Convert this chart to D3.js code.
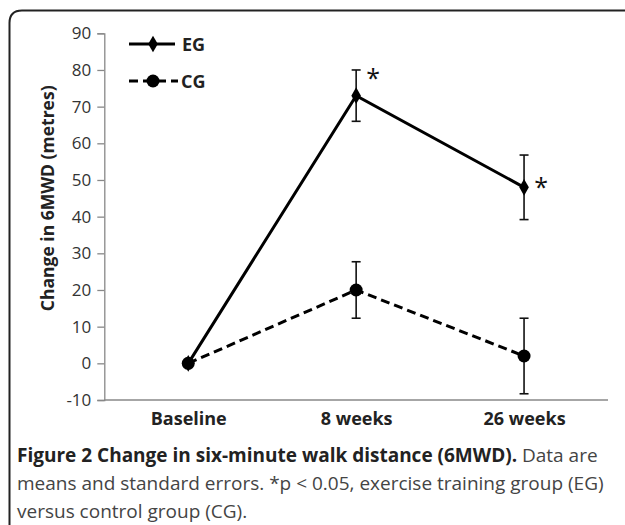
<!DOCTYPE html>
<html>
<head>
<meta charset="utf-8">
<script src="https://cdn.jsdelivr.net/npm/d3@7"></script>
<style>
  body { margin: 0; background: #fff; }
  text { font-family: "Open Sans", "Noto Sans", sans-serif; }
</style>
</head>
<body>
<script>
// data
var timepoints = ["Baseline", "8 weeks", "26 weeks"];
var egMeans = [0, 73, 48];
var egErrors = [0, 7, 8.8];
var cgMeans = [0, 20, 2];
var cgErrors = [0, 7.7, 10.3];
var yTicks = [-10, 0, 10, 20, 30, 40, 50, 60, 70, 80, 90];
// where the "*" marks sit, in metres, beside the EG points (null = none)
var starLevels = [null, 78.5, 49];

var width = 625, height = 525;
var margin = {top: 33.3, right: 17, bottom: 125, left: 104.3};

var svg = d3.select("body").append("svg")
    .attr("width", width)
    .attr("height", height);

// frame with the rounded corner at top left
svg.append("path")
    .attr("d", "M9.5,525 L9.5,23 Q9.5,10.5 22,10.5 L625,10.5")
    .attr("fill", "none")
    .attr("stroke", "#222")
    .attr("stroke-width", 2);

var x = d3.scalePoint()
    .domain(timepoints)
    .range([margin.left, width - margin.right])
    .padding(0.5);

var y = d3.scaleLinear()
    .domain([-10, 90])
    .range([height - margin.bottom, margin.top]);

// y axis
var yAxis = svg.append("g")
    .attr("transform", "translate(" + margin.left + ",0)")
    .call(d3.axisLeft(y).tickValues(yTicks).tickSize(7).tickPadding(6)
        .tickFormat(function (d) { return String(d); }));
yAxis.select(".domain").attr("stroke", "#888").attr("stroke-width", 1.3);
yAxis.selectAll(".tick line").attr("stroke", "#888").attr("stroke-width", 1.3);
yAxis.selectAll(".tick text")
    .attr("font-size", 17)
    .attr("fill", "#333")
    .attr("font-family", "'Open Sans', sans-serif");

// x axis (line at the bottom of the y range, no ticks)
var xAxis = svg.append("g")
    .attr("transform", "translate(0," + y(-10) + ")")
    .call(d3.axisBottom(x).tickSize(0).tickPadding(12));
xAxis.select(".domain")
    .attr("d", "M" + margin.left + ",0H" + (width - margin.right))
    .attr("stroke", "#888").attr("stroke-width", 1.3);
xAxis.selectAll(".tick text")
    .attr("font-size", 18)
    .attr("font-weight", "bold")
    .attr("fill", "#222")
    .attr("font-family", "'Open Sans', sans-serif");

// y axis title
svg.append("text")
    .attr("transform", "translate(54," + y(45) + ") rotate(-90)")
    .attr("text-anchor", "middle")
    .attr("font-size", 17.5)
    .attr("font-weight", "bold")
    .attr("fill", "#222")
    .text("Change in 6MWD (metres)");

var line = d3.line()
    .x(function (d, i) { return x(timepoints[i]); })
    .y(function (d) { return y(d); });

// error bars
function drawErrors(means, errors) {
    var g = svg.append("g");
    means.forEach(function (m, i) {
        if (errors[i] === 0) return;
        var cx = x(timepoints[i]);
        var y0 = y(m - errors[i]), y1 = y(m + errors[i]);
        g.append("line").attr("x1", cx).attr("x2", cx).attr("y1", y0).attr("y2", y1);
        g.append("line").attr("x1", cx - 4.5).attr("x2", cx + 4.5).attr("y1", y0).attr("y2", y0);
        g.append("line").attr("x1", cx - 4.5).attr("x2", cx + 4.5).attr("y1", y1).attr("y2", y1);
    });
    g.selectAll("line").attr("stroke", "#111").attr("stroke-width", 1.6);
}
drawErrors(egMeans, egErrors);
drawErrors(cgMeans, cgErrors);

var diamond = d3.symbol().type(d3.symbolDiamond).size(80);

// EG series
svg.append("path")
    .datum(egMeans)
    .attr("d", line)
    .attr("fill", "none")
    .attr("stroke", "#000")
    .attr("stroke-width", 3);
svg.selectAll(".egPoint").data(egMeans).enter().append("path")
    .attr("class", "egPoint")
    .attr("d", diamond)
    .attr("transform", function (d, i) { return "translate(" + x(timepoints[i]) + "," + y(d) + ")"; })
    .attr("fill", "#000");

// CG series
svg.append("path")
    .datum(cgMeans)
    .attr("d", line)
    .attr("fill", "none")
    .attr("stroke", "#000")
    .attr("stroke-width", 3)
    .attr("stroke-dasharray", "9,5");
svg.selectAll(".cgPoint").data(cgMeans).enter().append("circle")
    .attr("class", "cgPoint")
    .attr("cx", function (d, i) { return x(timepoints[i]); })
    .attr("cy", function (d) { return y(d); })
    .attr("r", 6.5)
    .attr("fill", "#000");

// significance stars
starLevels.forEach(function (s, i) {
    if (s === null) return;
    svg.append("text")
        .attr("x", x(timepoints[i]) + 17)
        .attr("y", y(s) + 12)
        .attr("text-anchor", "middle")
        .attr("font-size", 25)
        .attr("fill", "#111")
        .text("*");
});

// legend
var legend = svg.append("g");
legend.append("line").attr("x1", 129).attr("x2", 175).attr("y1", 44).attr("y2", 44)
    .attr("stroke", "#000").attr("stroke-width", 3);
legend.append("path").attr("d", diamond).attr("transform", "translate(153,44)");
legend.append("text").attr("x", 182).attr("y", 50.5).text("EG");
legend.append("line").attr("x1", 129).attr("x2", 178).attr("y1", 81).attr("y2", 81)
    .attr("stroke", "#000").attr("stroke-width", 3).attr("stroke-dasharray", "9,5");
legend.append("circle").attr("cx", 153).attr("cy", 81).attr("r", 6.5);
legend.append("text").attr("x", 181).attr("y", 87.5).text("CG");
legend.selectAll("text").attr("font-size", 18).attr("font-weight", "bold").attr("fill", "#222");

// caption
var caption = svg.append("g").attr("font-size", 19);
var l1 = caption.append("text").attr("x", 17).attr("y", 462);
l1.append("tspan").attr("font-weight", "bold").attr("fill", "#222")
    .text("Figure 2 Change in six-minute walk distance (6MWD).");
l1.append("tspan").attr("fill", "#444").text(" Data are");
caption.append("text").attr("x", 17).attr("y", 490).attr("fill", "#444")
    .text("means and standard errors. *p < 0.05, exercise training group (EG)");
caption.append("text").attr("x", 17).attr("y", 518).attr("fill", "#444")
    .text("versus control group (CG).");
</script>
</body>
</html>
